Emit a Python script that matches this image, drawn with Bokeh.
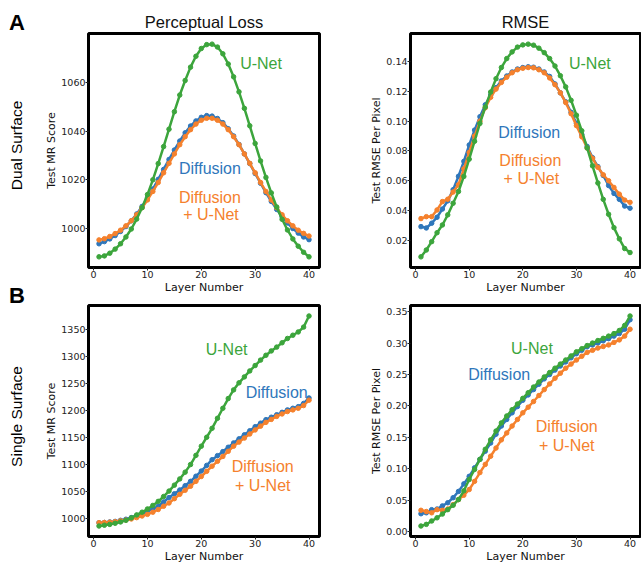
import math
from bokeh.plotting import figure
from bokeh.layouts import column, row
from bokeh.models import Range1d, FixedTicker, NumeralTickFormatter, Label, Title
from bokeh.core.properties import value
from bokeh.embed import file_html
from bokeh.resources import INLINE

# ---------------- data ----------------
layers = list(range(1, 41))

dual_pl_diffusion = [993.6, 994.5, 995.6, 997.0, 998.7, 1000.7, 1003.1, 1005.9, 1009.0, 1012.5,
                     1016.2, 1020.2, 1024.3, 1028.4, 1032.3, 1036.0, 1039.4, 1042.2, 1044.3, 1045.8,
                     1046.5, 1046.3, 1045.3, 1043.6, 1041.1, 1038.1, 1034.6, 1030.7, 1026.7, 1022.6,
                     1018.6, 1014.7, 1011.1, 1007.8, 1004.8, 1002.2, 999.9, 998.0, 996.4, 995.3]
dual_pl_combo = [995.2, 995.7, 996.6, 997.8, 999.2, 1001.0, 1003.1, 1005.6, 1008.5, 1011.7,
                 1015.2, 1018.9, 1022.9, 1026.8, 1030.7, 1034.5, 1037.8, 1040.7, 1043.0, 1044.6,
                 1045.4, 1045.4, 1044.6, 1043.0, 1040.7, 1037.8, 1034.5, 1030.7, 1026.8, 1022.9,
                 1018.9, 1015.2, 1011.7, 1008.5, 1005.6, 1003.1, 1001.0, 999.2, 997.9, 996.8]
dual_pl_unet = [988.2, 988.6, 989.7, 991.4, 993.6, 996.4, 999.7, 1003.8, 1008.5, 1013.9,
                1020.0, 1026.7, 1033.7, 1040.9, 1048.1, 1055.0, 1061.0, 1066.5, 1071.0, 1074.2,
                1075.8, 1076.0, 1074.8, 1072.0, 1067.8, 1062.5, 1056.3, 1049.5, 1042.3, 1035.0,
                1027.8, 1021.0, 1014.6, 1008.8, 1003.7, 999.3, 995.6, 992.6, 990.1, 988.2]

dual_rmse_diffusion = [0.0292, 0.0283, 0.0315, 0.0355, 0.0410, 0.0465, 0.0540, 0.0630, 0.0730, 0.0840,
                       0.0940, 0.1030, 0.1110, 0.1175, 0.1225, 0.1270, 0.1303, 0.1330, 0.1350, 0.1360,
                       0.1365, 0.1362, 0.1350, 0.1330, 0.1300, 0.1250, 0.1190, 0.1130, 0.1060, 0.0985,
                       0.0910, 0.0830, 0.0755, 0.0695, 0.0635, 0.0568, 0.0515, 0.0475, 0.0430, 0.0416]
dual_rmse_combo = [0.0346, 0.0359, 0.0359, 0.0404, 0.0460, 0.0476, 0.0524, 0.0573, 0.0680, 0.0790,
                   0.0900, 0.1000, 0.1090, 0.1160, 0.1215, 0.1260, 0.1295, 0.1325, 0.1345, 0.1355,
                   0.1360, 0.1358, 0.1345, 0.1325, 0.1290, 0.1245, 0.1190, 0.1125, 0.1050, 0.0970,
                   0.0895, 0.0820, 0.0750, 0.0690, 0.0640, 0.0600, 0.0555, 0.0510, 0.0470, 0.0455]
dual_rmse_unet = [0.0089, 0.0135, 0.0191, 0.0251, 0.0303, 0.0371, 0.0449, 0.0528, 0.0629, 0.0745,
                  0.0865, 0.0985, 0.1095, 0.1195, 0.1285, 0.1360, 0.1420, 0.1465, 0.1497, 0.1512,
                  0.1517, 0.1510, 0.1490, 0.1460, 0.1420, 0.1370, 0.1305, 0.1230, 0.1140, 0.1040,
                  0.0935, 0.0820, 0.0700, 0.0585, 0.0475, 0.0375, 0.0285, 0.0210, 0.0145, 0.0118]

single_pl_diffusion = [992.6, 993, 994, 995, 997, 999, 1002, 1006, 1010, 1014,
                       1018, 1023, 1031, 1039, 1046, 1053, 1061, 1069, 1078.5, 1088,
                       1098.5, 1109, 1116.5, 1124, 1132, 1140, 1147.5, 1155, 1162.5, 1170,
                       1176.5, 1183, 1187.5, 1192, 1196.5, 1201, 1204, 1207, 1213, 1223]
single_pl_combo = [992.6, 993, 993.5, 994.5, 996, 997.5, 999.5, 1002, 1005, 1008,
                   1012, 1017, 1023, 1029, 1037, 1045, 1052.5, 1060, 1069, 1078,
                   1087.5, 1097, 1106, 1115, 1124.5, 1134, 1141.5, 1149, 1156.5, 1164,
                   1171, 1178, 1183.5, 1189, 1193.5, 1198, 1201, 1204, 1209, 1219]
single_pl_unet = [986.5, 988, 989.5, 991.5, 994, 997, 1001.5, 1007, 1012, 1018,
                  1024.5, 1032, 1041, 1051, 1062, 1073.5, 1086, 1100, 1117, 1134,
                  1150.5, 1167, 1185.5, 1204, 1222, 1238, 1251, 1262, 1273, 1283,
                  1293, 1302, 1310, 1317, 1325, 1333, 1339, 1345, 1354, 1374.5]

single_rmse_diffusion = [0.0285, 0.030, 0.035, 0.036, 0.041, 0.046, 0.054, 0.064, 0.076, 0.088,
                         0.1015, 0.115, 0.128, 0.141, 0.155, 0.168, 0.1785, 0.189, 0.199, 0.209,
                         0.2175, 0.226, 0.2345, 0.243, 0.250, 0.257, 0.2635, 0.270, 0.2765, 0.283,
                         0.2885, 0.294, 0.297, 0.300, 0.3035, 0.307, 0.311, 0.315, 0.322, 0.337]
single_rmse_combo = [0.034, 0.032, 0.030, 0.035, 0.034, 0.036, 0.043, 0.051, 0.058, 0.067,
                     0.080, 0.094, 0.107, 0.120, 0.133, 0.146, 0.157, 0.168, 0.1785, 0.189,
                     0.198, 0.207, 0.2165, 0.226, 0.235, 0.244, 0.252, 0.260, 0.2665, 0.273,
                     0.279, 0.285, 0.2885, 0.292, 0.2945, 0.297, 0.301, 0.305, 0.311, 0.322]
single_rmse_unet = [0.009, 0.0116, 0.017, 0.022, 0.028, 0.035, 0.042, 0.051, 0.065, 0.083,
                    0.099, 0.115, 0.131, 0.146, 0.160, 0.173, 0.184, 0.194, 0.203, 0.212,
                    0.221, 0.230, 0.238, 0.246, 0.253, 0.260, 0.2665, 0.273, 0.2795, 0.286,
                    0.291, 0.296, 0.300, 0.304, 0.3075, 0.311, 0.315, 0.320, 0.328, 0.343]

x_ticks = [0, 10, 20, 30, 40]
dual_pl_ticks = [1000, 1020, 1040, 1060]
dual_rmse_ticks = [0.02, 0.04, 0.06, 0.08, 0.10, 0.12, 0.14]
single_pl_ticks = [1000, 1050, 1100, 1150, 1200, 1250, 1300, 1350]
single_rmse_ticks = [0.00, 0.05, 0.10, 0.15, 0.20, 0.25, 0.30, 0.35]

series_names = ["Diffusion", "Diffusion + U-Net", "U-Net"]
colors = {"Diffusion": "#2f77bb", "Diffusion + U-Net": "#f5812d", "U-Net": "#3ca53c"}

panel_letters = ["A", "B"]
row_titles = ["Dual Surface", "Single Surface"]
col_titles = ["Perceptual Loss", "RMSE"]

# ---------------- styling / layout ----------------
SANS = "Liberation Sans"
MPL = "DejaVu Sans"
PAGE_H = 564
STRIP_W = 26

LEFT = dict(min_border_left=62, frame_width=231, min_border_right=2)
RIGHT = dict(min_border_left=89, frame_width=230, min_border_right=1)
TOP = dict(min_border_top=33, frame_height=234, min_border_bottom=36)
BOTTOM = dict(min_border_top=2, frame_height=231, min_border_bottom=28)


def make_panel(ys, yticks, ylabel, col, rowd, title=None, fmt=None, notes=()):
    vals = [v for s in ys for v in s]
    lo, hi = min(vals), max(vals)
    pad = 0.05 * (hi - lo)
    xlo, xhi = min(layers), max(layers)
    xpad = 0.05 * (xhi - xlo)
    kw = dict(col)
    kw.update(rowd)
    p = figure(x_range=Range1d(xlo - xpad, xhi + xpad), y_range=Range1d(lo - pad, hi + pad),
               output_backend="svg", toolbar_location=None, title=None, **kw)
    p.background_fill_color = "white"
    p.border_fill_color = "white"
    p.xgrid.visible = False
    p.ygrid.visible = False
    p.outline_line_color = "black"
    p.outline_line_width = 3
    p.outline_line_alpha = 1.0

    for ax in (p.xaxis[0], p.yaxis[0]):
        ax.axis_line_color = None
        ax.minor_tick_line_color = None
        ax.major_tick_in = 0
        ax.major_tick_out = 3
        ax.major_tick_line_color = "#222222"
        ax.major_tick_line_width = 1
        ax.major_label_text_font = MPL
        ax.major_label_text_font_size = "9.5px"
        ax.major_label_text_color = "#222222"
        ax.axis_label_text_font = MPL
        ax.axis_label_text_font_size = "11px"
        ax.axis_label_text_font_style = "normal"
        ax.axis_label_text_color = "#111111"
        ax.axis_label_standoff = 0
    p.xaxis[0].major_label_standoff = 0
    p.yaxis[0].major_label_standoff = 0
    p.xaxis[0].ticker = FixedTicker(ticks=x_ticks)
    p.yaxis[0].ticker = FixedTicker(ticks=yticks)
    if fmt:
        p.yaxis[0].formatter = NumeralTickFormatter(format=fmt)
    p.xaxis[0].axis_label = "Layer Number"
    p.yaxis[0].axis_label = ylabel

    if title:
        p.add_layout(Title(text=title, align="center", text_font=SANS, text_font_size="16.5px",
                           text_font_style="normal", text_color="#111111", standoff=5), "above")

    for name, y in zip(series_names, ys):
        c = colors[name]
        p.line(layers, y, line_color=c, line_width=2.5)
        p.scatter(layers, y, size=4.5, fill_color=c, line_color=c)

    for (txt, name, x, y) in notes:
        p.add_layout(Label(x=x, y=y, text=txt, text_color=colors[name], text_font=SANS,
                           text_font_size="16px", text_align="center", text_baseline="middle"))
    return p


p1 = make_panel([dual_pl_diffusion, dual_pl_combo, dual_pl_unet], dual_pl_ticks, "Test MR Score",
                LEFT, TOP, title=col_titles[0],
                notes=[("U-Net", "U-Net", 31.1, 1068), ("Diffusion", "Diffusion", 21.6, 1024.8),
                       ("Diffusion", "Diffusion + U-Net", 21.6, 1012.8),
                       ("+ U-Net", "Diffusion + U-Net", 21.8, 1005.7)])
p2 = make_panel([dual_rmse_diffusion, dual_rmse_combo, dual_rmse_unet], dual_rmse_ticks,
                "Test RMSE Per Pixel", RIGHT, TOP, title=col_titles[1], fmt="0.00",
                notes=[("U-Net", "U-Net", 32.5, 0.1389), ("Diffusion", "Diffusion", 21.2, 0.0924),
                       ("Diffusion", "Diffusion + U-Net", 21.4, 0.0735),
                       ("+ U-Net", "Diffusion + U-Net", 21.6, 0.0613)])
p3 = make_panel([single_pl_diffusion, single_pl_combo, single_pl_unet], single_pl_ticks,
                "Test MR Score", LEFT, BOTTOM,
                notes=[("U-Net", "U-Net", 24.7, 1313), ("Diffusion", "Diffusion", 34.0, 1234),
                       ("Diffusion", "Diffusion + U-Net", 31.4, 1096),
                       ("+ U-Net", "Diffusion + U-Net", 31.4, 1061)])
p4 = make_panel([single_rmse_diffusion, single_rmse_combo, single_rmse_unet], single_rmse_ticks,
                "Test RMSE Per Pixel", RIGHT, BOTTOM, fmt="0.00",
                notes=[("U-Net", "U-Net", 21.7, 0.292), ("Diffusion", "Diffusion", 15.6, 0.2494),
                       ("Diffusion", "Diffusion + U-Net", 28.2, 0.167),
                       ("+ U-Net", "Diffusion + U-Net", 28.2, 0.1368)])

# left strip holding the panel letters and the row titles (pixel coordinates, y up)
strip = figure(frame_width=STRIP_W, frame_height=PAGE_H, min_border=0,
               x_range=Range1d(0, STRIP_W), y_range=Range1d(0, PAGE_H),
               x_axis_type=None, y_axis_type=None, output_backend="svg",
               toolbar_location=None, title=None)
strip.outline_line_color = None
strip.xgrid.visible = False
strip.ygrid.visible = False
strip.background_fill_color = "white"
strip.border_fill_color = "white"
letter_baselines = [22, 295]      # from the top of the page
row_title_centers = [145, 416]    # from the top of the page
strip.text(x=[16.5, 16.5], y=[PAGE_H - v for v in letter_baselines], text=panel_letters,
           text_font=value(SANS), text_font_size=value("22px"), text_font_style="bold",
           text_color="black", text_align="center", text_baseline="alphabetic")
strip.text(x=[16, 16], y=[PAGE_H - v for v in row_title_centers], text=row_titles,
           angle=math.pi / 2, text_font=value(SANS), text_font_size=value("15.5px"),
           text_color="black", text_align="center", text_baseline="middle")

layout = row(strip, column(row(p1, p2), row(p3, p4)))
open("out.html", "w").write(file_html(layout, INLINE))
